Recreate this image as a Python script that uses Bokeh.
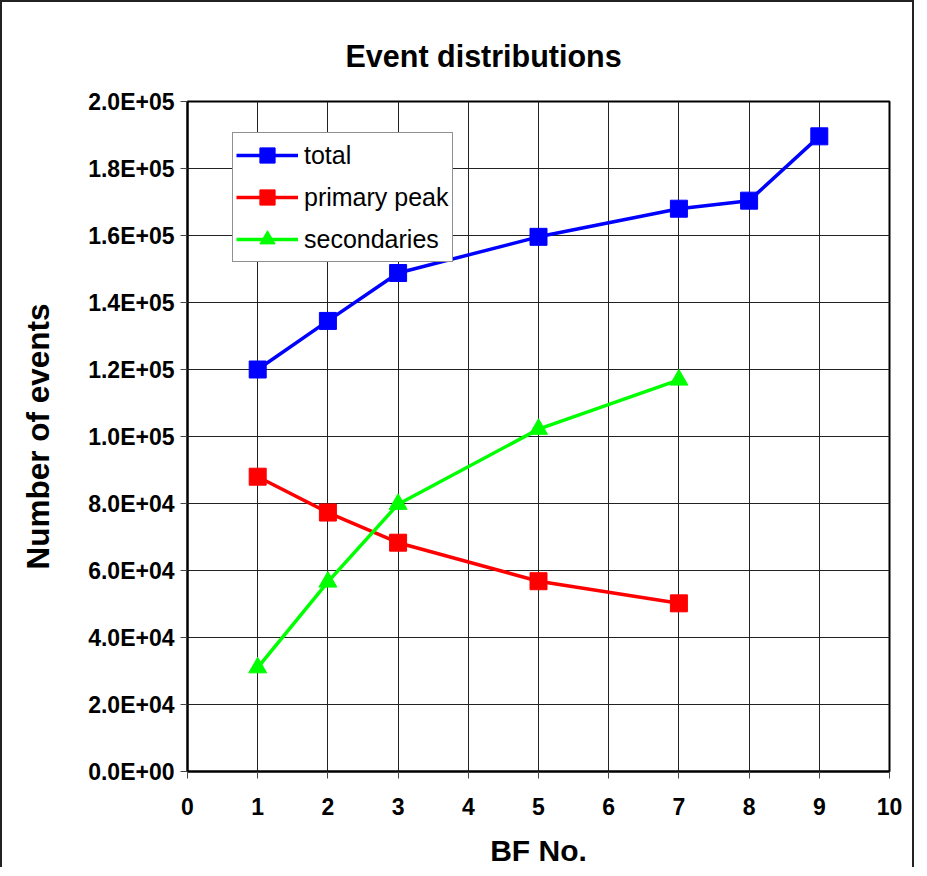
from bokeh.plotting import figure
from bokeh.models import Range1d, FixedTicker, Legend, LegendItem, Title
from bokeh.embed import file_html
from bokeh.resources import INLINE

# ---- data ----
bf_total = [1, 2, 3, 5, 7, 8, 9]
total = [120000, 134500, 148800, 159600, 168000, 170400, 189600]
bf_sub = [1, 2, 3, 5, 7]
primary_peak = [88000, 77300, 68300, 56800, 50200]
secondaries = [31000, 56600, 79800, 102200, 116900]

x_ticks = [0, 1, 2, 3, 4, 5, 6, 7, 8, 9, 10]
y_ticks = [0, 20000, 40000, 60000, 80000, 100000, 120000, 140000, 160000, 180000, 200000]
y_tick_labels = ["0.0E+00", "2.0E+04", "4.0E+04", "6.0E+04", "8.0E+04", "1.0E+05",
                 "1.2E+05", "1.4E+05", "1.6E+05", "1.8E+05", "2.0E+05"]

FONT = "Liberation Sans"

p = figure(width=914, height=867, output_backend="svg", toolbar_location=None,
           x_range=Range1d(0, 10), y_range=Range1d(0, 200000),
           min_border_left=185, min_border_right=27, min_border_top=99, min_border_bottom=96,
           styles={"border-left": "2px solid #222", "border-top": "2px solid #222",
                   "border-right": "2px solid #222"})

p.title = Title(text="Event distributions", text_font=FONT, text_font_size="30.5px",
                text_font_style="bold", text_color="black", align="left", offset=158, standoff=58)

p.background_fill_color = "white"
p.border_fill_color = "white"
p.outline_line_color = "black"
p.outline_line_width = 2

for g in (p.xgrid, p.ygrid):
    g.grid_line_color = "#222222"
    g.grid_line_width = 1
p.xgrid.ticker = FixedTicker(ticks=x_ticks)
p.ygrid.ticker = FixedTicker(ticks=y_ticks)

xa = p.xaxis[0]
xa.ticker = FixedTicker(ticks=x_ticks)
xa.axis_label = "BF No."
ya = p.yaxis[0]
ya.ticker = FixedTicker(ticks=y_ticks)
ya.major_label_overrides = {t: l for t, l in zip(y_ticks, y_tick_labels)}
ya.axis_label = "Number of events"

for ax in (xa, ya):
    ax.axis_line_color = "black"
    ax.axis_line_width = 2
    ax.major_tick_line_color = "#444444"
    ax.major_tick_line_width = 1
    ax.major_tick_in = 0
    ax.major_tick_out = 7
    ax.minor_tick_line_color = None
    ax.major_label_text_font = FONT
    ax.major_label_text_font_style = "bold"
    ax.major_label_text_font_size = "23px"
    ax.major_label_text_color = "black"
    ax.axis_label_text_font = FONT
    ax.axis_label_text_font_style = "bold"
    ax.axis_label_text_font_size = "30px"
    ax.axis_label_text_color = "black"
ya.axis_label_text_font_size = "31.5px"
ya.major_label_standoff = 6
ya.axis_label_standoff = 29
xa.major_label_standoff = 19
xa.axis_label_standoff = 16

# ---- series ----
l1 = p.line(bf_total, total, line_color="#0000FF", line_width=3.5)
s1 = p.scatter(bf_total, total, marker="square", size=17, fill_color="#0000FF", line_color="#0000FF")
l2 = p.line(bf_sub, primary_peak, line_color="#FF0000", line_width=3.5)
s2 = p.scatter(bf_sub, primary_peak, marker="square", size=17, fill_color="#FF0000", line_color="#FF0000")
l3 = p.line(bf_sub, secondaries, line_color="#00FF00", line_width=3.5)
s3 = p.scatter(bf_sub, secondaries, marker="triangle", size=18, fill_color="#00FF00", line_color="#00FF00")

legend = Legend(items=[
    LegendItem(label="total", renderers=[l1, s1]),
    LegendItem(label="primary peak", renderers=[l2, s2]),
    LegendItem(label="secondaries", renderers=[l3, s3]),
], location=(45, 509))
legend.label_text_font = FONT
legend.label_text_font_size = "25px"
legend.label_text_color = "black"
legend.glyph_width = 62
legend.glyph_height = 38
legend.label_height = 38
legend.label_standoff = 6
legend.spacing = 4
legend.padding = 3
legend.margin = 0
legend.border_line_color = "#222222"
legend.border_line_width = 1
legend.background_fill_alpha = 1
p.add_layout(legend, "center")

open("out.html", "w").write(file_html(p, INLINE))
